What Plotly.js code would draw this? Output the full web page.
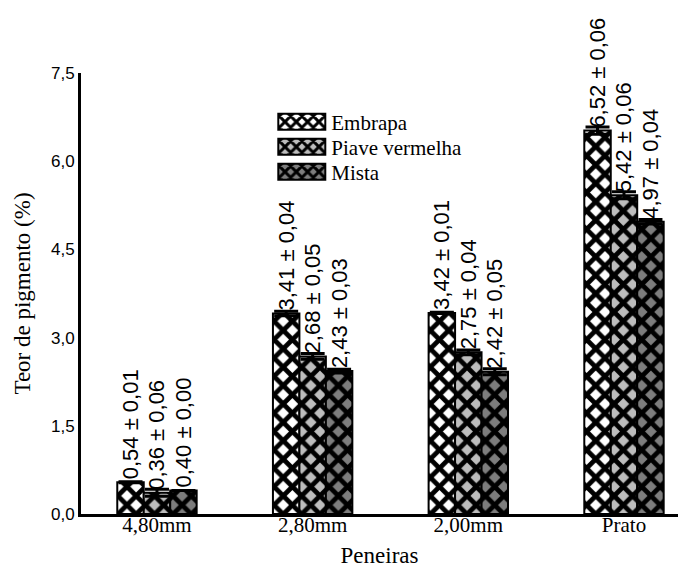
<!DOCTYPE html>
<html>
<head>
<meta charset="utf-8">
<script src="https://cdn.plot.ly/plotly-3.0.1.min.js"></script>
<style>
  html, body { margin: 0; padding: 0; background: #fff; }
  #chart { width: 691px; height: 568px; }
</style>
</head>
<body>
<div id="chart"></div>
<script>
// Sieve fractions
const peneiras = ['4,80mm', '2,80mm', '2,00mm', 'Prato'];

// Pigment content (%) per variety, with standard deviation
const embrapa = [0.54, 3.41, 3.42, 6.52];
const embrapaSd = [0.01, 0.04, 0.01, 0.06];
const piave = [0.36, 2.68, 2.75, 5.42];
const piaveSd = [0.06, 0.05, 0.04, 0.06];
const mista = [0.40, 2.43, 2.42, 4.97];
const mistaSd = [0.00, 0.03, 0.05, 0.04];

const seriesNames = ['Embrapa', 'Piave vermelha', 'Mista'];
const yTicks = [0, 1.5, 3.0, 4.5, 6.0, 7.5];

const fmt = v => v.toFixed(2).replace('.', ',');
const labelsOf = (vals, sds) => vals.map((v, i) => fmt(v) + ' \u00b1 ' + fmt(sds[i]));

const sans = "'Liberation Sans', Arial, sans-serif";
const serif = "'Liberation Serif', 'Times New Roman', serif";

function barTrace(name, vals, sds, bg) {
  return {
    type: 'bar',
    name: name,
    x: peneiras.map((_, i) => i),
    y: vals,
    text: labelsOf(vals, sds),
    textposition: 'outside',
    textangle: -90,
    constraintext: 'none',
    cliponaxis: false,
    textfont: { family: sans, size: 22, color: '#000' },
    marker: {
      color: bg,
      line: { color: '#000', width: 2 },
      pattern: { shape: 'x', fgcolor: '#000', fgopacity: 1, bgcolor: bg, size: 13, solidity: 0.6, fillmode: 'replace' }
    },
    error_y: { type: 'data', array: sds, visible: true, color: '#000', thickness: 3, width: 12 },
    hoverinfo: 'skip'
  };
}

const data = [
  barTrace(seriesNames[0], embrapa, embrapaSd, '#ffffff'),
  barTrace(seriesNames[1], piave, piaveSd, '#bdbdbd'),
  barTrace(seriesNames[2], mista, mistaSd, '#7d7d7d')
];

const layout = {
  width: 691,
  height: 568,
  margin: { l: 81, r: 13, t: 73, b: 54 },
  paper_bgcolor: '#fff',
  plot_bgcolor: '#fff',
  barmode: 'group',
  bargap: 0.49,
  bargroupgap: 0,
  separators: ',.',
  showlegend: true,
  legend: {
    x: 0.302, y: 0.935, xanchor: 'left', yanchor: 'top',
    font: { family: serif, size: 21, color: '#000' },
    bgcolor: 'rgba(0,0,0,0)',
    traceorder: 'normal',
    itemwidth: 60,
    tracegroupgap: 0
  },
  xaxis: {
    range: [-0.488, 3.347],
    tickmode: 'array',
    tickvals: peneiras.map((_, i) => i),
    ticktext: peneiras,
    tickfont: { family: serif, size: 21, color: '#000' },
    ticklabelstandoff: -10,
    showline: true, linecolor: '#000', linewidth: 3,
    ticks: '', showgrid: false, zeroline: false,
    title: { text: 'Peneiras', font: { family: serif, size: 23, color: '#000' }, standoff: 23 }
  },
  yaxis: {
    range: [0, 7.5],
    tickmode: 'array',
    tickvals: yTicks,
    ticktext: yTicks.map(v => v.toFixed(1).replace('.', ',')),
    tickfont: { family: sans, size: 17, color: '#000' },
    ticklabelstandoff: 0,
    showline: true, linecolor: '#000', linewidth: 3,
    ticks: '', showgrid: false, zeroline: false,
    title: { text: 'Teor de pigmento (%)', font: { family: serif, size: 23, color: '#000' }, standoff: 14 }
  }
};

// Wide framed legend swatches, rows set 25px apart
const ROW_STEP = 25;
function styleLegend(gd) {
  const rows = gd.querySelectorAll('.legend .traces');
  let firstX = null, firstY = null;
  rows.forEach((tr, i) => {
    const t = (tr.getAttribute('transform') || '').match(/translate\(\s*([-\d.]+)[ ,]+([-\d.]+)/);
    if (t) {
      if (firstY === null) { firstX = parseFloat(t[1]); firstY = parseFloat(t[2]); }
      tr.setAttribute('transform', `translate(${firstX},${firstY + i * ROW_STEP})`);
    }
    const txt = tr.querySelector('text.legendtext');
    const path = tr.querySelector('.legendpoints path');
    if (!txt || !path) return;
    const textX = parseFloat(txt.getAttribute('x')) || 0;
    const m = tr.getScreenCTM().inverse().multiply(path.getScreenCTM());
    const x1 = textX - 6 - m.e, x0 = x1 - 47;
    const y0 = -8 - m.f, y1 = 8 - m.f;
    path.setAttribute('d', `M${x1},${y1}H${x0}V${y0}H${x1}Z`);
    path.style.strokeWidth = '2px';
    path.style.stroke = '#000';
  });
}

Plotly.newPlot('chart', data, layout, { displayModeBar: false, staticPlot: true })
  .then(gd => styleLegend(gd));
</script>
</body>
</html>
